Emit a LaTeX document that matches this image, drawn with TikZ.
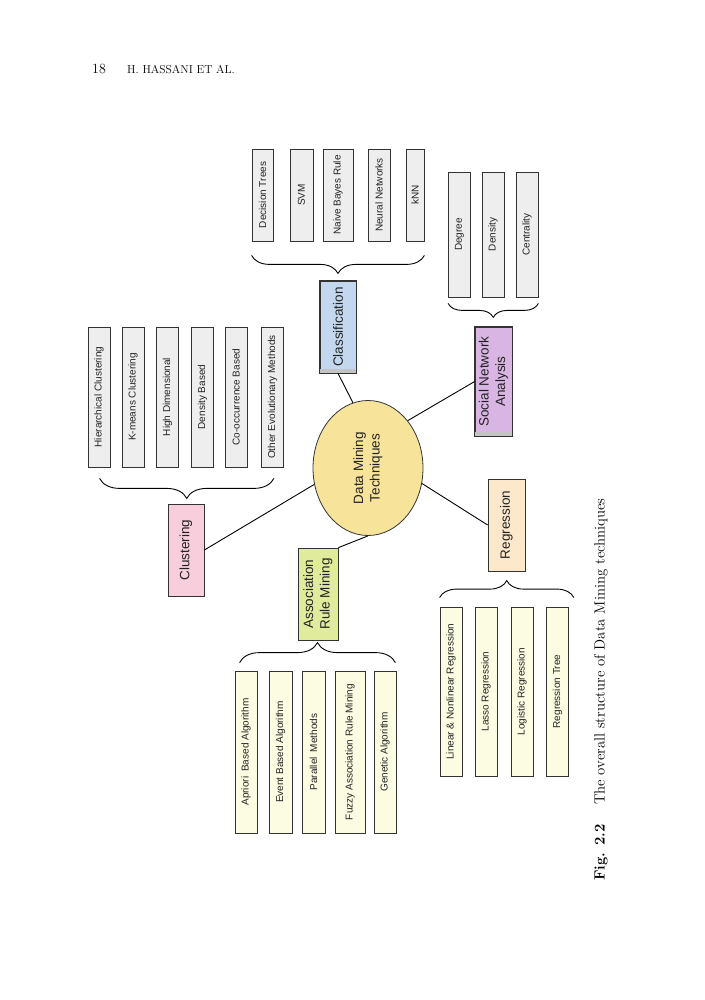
\documentclass[tikz,border=0pt]{standalone}
\usepackage{fontspec}
\newfontfamily\arialf{Liberation Sans}
\usetikzlibrary{shapes.geometric,decorations.pathreplacing,calc}
\definecolor{boxline}{HTML}{333333}
\definecolor{txtgray}{HTML}{222222}
\definecolor{leafgray}{HTML}{EEEEEE}
\definecolor{leafcream}{HTML}{FCFCE3}
\definecolor{clsblue}{HTML}{C3D8EE}
\definecolor{snapurple}{HTML}{D9B5E4}
\definecolor{clupink}{HTML}{F8CEDD}
\definecolor{armlime}{HTML}{E0EB9C}
\definecolor{regpeach}{HTML}{FDE8CC}
\definecolor{dmtyellow}{HTML}{F7E49A}
\definecolor{shadowgray}{HTML}{C4C4C4}
\begin{document}
\begin{tikzpicture}[x=1pt,y=-1pt,
  leaf/.style={draw=boxline,line width=0.8pt,rotate=90,inner sep=0pt,text=txtgray,
    font=\arialf\fontsize{10}{12}\selectfont},
  topic/.style={draw=boxline,line width=0.8pt,rotate=90,inner sep=0pt,minimum width=92,
    align=center,text=txtgray,font=\arialf\fontsize{13.5}{16.5}\selectfont},
  curly/.style={decorate,decoration={brace,amplitude=#1},line width=0.9pt},
  link/.style={line width=0.9pt}]
\useasboundingbox (0,0) rectangle (704,1000);
% running head
\node[anchor=base west,inner sep=0pt,font=\fontsize{14}{16}\selectfont] (pg) at (92,74) {18};
\node[anchor=base west,inner sep=0pt,font=\fontsize{11.5}{13}\selectfont] (hdr) at (127,74) {H. HASSANI ET AL.};
% centre
\node[ellipse,draw=boxline,fill=dmtyellow,line width=0.8pt,rotate=90,minimum width=135,
  minimum height=110,inner sep=0pt,align=center,text=txtgray,
  font=\arialf\fontsize{13.5}{16.5}\selectfont] (dmt) at (368,468) {Data Mining\\Techniques};
% topics
\node[topic,fill=clsblue,minimum height=36] (cls) at (338,327) {Classification};
\node[topic,fill=snapurple,minimum width=109,minimum height=37] (sna) at (493.5,381.5) {Social Network\\Analysis};
\node[topic,fill=clupink,minimum height=36] (clu) at (186,550) {Clustering};
\node[topic,fill=armlime,minimum height=40] (arm) at (318,594) {Association\\Rule Mining};
\node[topic,fill=regpeach,minimum height=37] (reg) at (506.5,525) {Regression};
\fill[shadowgray] (cls.north west) rectangle ($(cls.south west)+(0,-4)$);
\draw[boxline,line width=0.8pt] (cls.north west) rectangle (cls.south east);
\fill[shadowgray] (sna.north west) rectangle ($(sna.south west)+(0,-4)$);
\draw[boxline,line width=0.8pt] (sna.north west) rectangle (sna.south east);
% leaves
\foreach \n/\x/\w/\t in {dt/262.5/21/Decision Trees,svm/301.5/23/SVM,nb/338/30/Naive Bayes Rule,
    nn/379/22/Neural Networks,knn/415/18/kNN}
  \node[leaf,fill=leafgray,minimum width=92,minimum height=\w] (\n) at (\x,195) {\t};
\foreach \n/\x/\t in {deg/459.5/Degree,den/493/Density,cen/527/Centrality}
  \node[leaf,fill=leafgray,minimum width=125,minimum height=22] (\n) at (\x,234.5) {\t};
\foreach \n/\x/\t in {hc/99/Hierarchical Clustering,km/133/K-means Clustering,hd/167.5/High Dimensional,
    db/202.5/Density Based,cob/236/Co-occurrence Based,oem/272.5/Other Evolutionary Methods}
  \node[leaf,fill=leafgray,minimum width=140,minimum height=22] (\n) at (\x,397) {\t};
\foreach \n/\x/\w/\t in {apr/246/22/Apriori\enspace Based Algorithm,eba/280.5/23/Event Based Algorithm,
    par/313.5/23/Parallel\enspace Methods,fuz/350/30/Fuzzy Association Rule Mining,gen/385/22/Genetic Algorithm}
  \node[leaf,fill=leafcream,minimum width=162,minimum height=\w] (\n) at (\x,752) {\t};
\foreach \n/\x/\t in {lin/451/Linear \& Nonlinear Regression,las/486/Lasso Regression,
    lgr/522/Logistic Regression,rt/557.5/Regression Tree}
  \node[leaf,fill=leafcream,minimum width=169,minimum height=22] (\n) at (\x,691.5) {\t};
% braces
\draw[curly=18] ($(knn.south west)+(0,14)$) -- ($(dt.north west)+(0,14)$);
\draw[curly=14] ($(cen.south west)+(0,6)$) -- ($(deg.north west)+(0,6)$);
\draw[curly=20] ($(oem.south west)+(-10,11)$) -- ($(hc.north west)+(12,11)$);
\draw[curly=20] ($(apr.north east)+(5,-8)$) -- ($(gen.south east)+(-1,-8)$);
\draw[curly=17] ($(lin.north east)+(0,-9)$) -- ($(rt.south east)+(5,-9)$);
% links
\draw[link] (cls.west) -- (dmt.13);
\draw[link] (sna.north) -- (dmt.-40);
\draw[link] (clu.south) -- (dmt.107);
\draw[link] (arm.south east) -- (dmt.180);
\draw[link] (reg.north) -- (dmt.-106);
% caption
\node[rotate=90,anchor=west,inner sep=0pt,font=\fontsize{14.8}{17}\selectfont] (cap) at (601,881)
  {\textbf{Fig. 2.2}\hspace{1.3em}The overall structure of Data Mining techniques};
\end{tikzpicture}
\end{document}
